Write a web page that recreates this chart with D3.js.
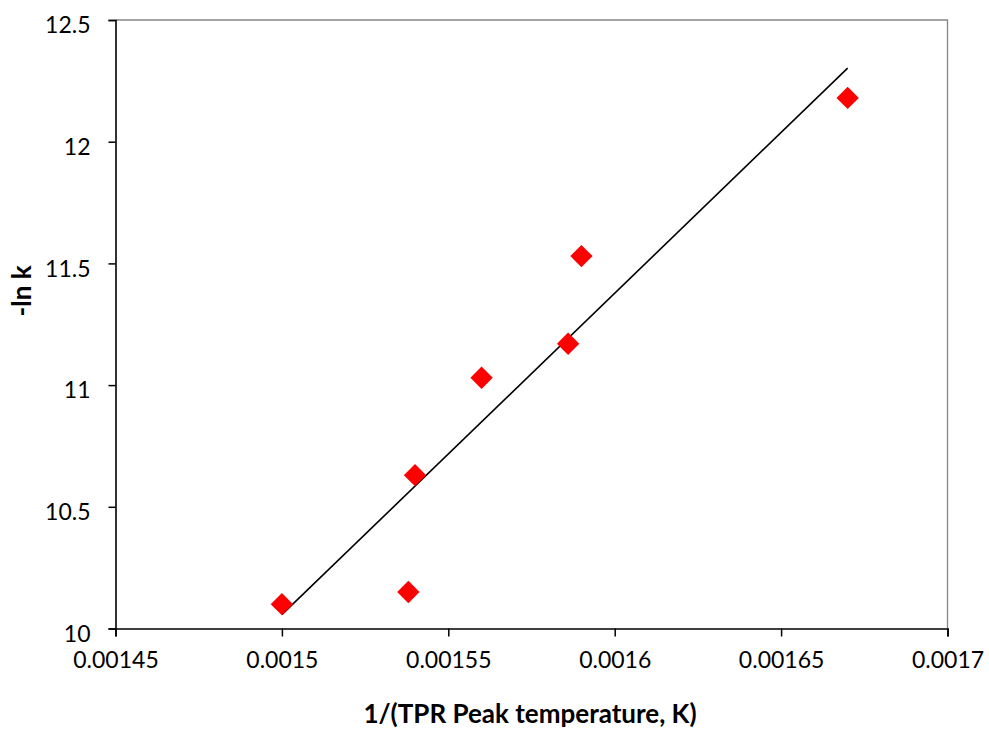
<!DOCTYPE html>
<html>
<head>
<meta charset="utf-8">
<script src="https://cdn.jsdelivr.net/npm/d3@7"></script>
<style>
  html, body { margin: 0; padding: 0; background: #fff; }
  svg { display: block; }
  .tick text { font-family: Lato, "Open Sans", sans-serif; font-size: 23px; fill: #000; }
  .title { font-family: Lato, "Open Sans", sans-serif; font-size: 26px; font-weight: bold; fill: #000; }
</style>
</head>
<body>
<svg id="chart" width="989" height="731"></svg>
<script>
// Inverse TPR peak temperature (1/K) and -ln k
const invTemp = [0.00150, 0.001538, 0.00154, 0.00156, 0.001586, 0.00159, 0.00167];
const negLnK  = [10.10, 10.15, 10.63, 11.03, 11.17, 11.53, 12.18];

const xTicks = [0.00145, 0.0015, 0.00155, 0.0016, 0.00165, 0.0017];
const yTicks = [10, 10.5, 11, 11.5, 12, 12.5];

const margin = { left: 115.5, right: 41.5, top: 20, bottom: 102.5 };
const W = 989, H = 731;
const svg = d3.select("#chart");

const x = d3.scaleLinear().domain([0.00145, 0.0017]).range([margin.left, W - margin.right]);
const y = d3.scaleLinear().domain([10, 12.5]).range([H - margin.bottom, margin.top]);

// plot area frame (top and right edges)
svg.append("path")
  .attr("d", `M${x.range()[0]},${y.range()[1]}H${x.range()[1]}V${y.range()[0]}`)
  .attr("fill", "none").attr("stroke", "#868686").attr("stroke-width", 1.3);

// axes
const xAxis = svg.append("g")
  .attr("transform", `translate(0,${y.range()[0]})`)
  .call(d3.axisBottom(x).tickValues(xTicks).tickFormat(d => String(+d.toFixed(5))).tickSizeOuter(0).tickSize(8).tickPadding(22));
const yAxis = svg.append("g")
  .attr("transform", `translate(${x.range()[0]},0)`)
  .call(d3.axisLeft(y).tickValues(yTicks).tickFormat(d => String(d)).tickSizeOuter(0).tickSize(7).tickPadding(18));
[xAxis, yAxis].forEach(g => {
  g.select(".domain").attr("stroke", "#000").attr("stroke-width", 1.6);
  g.selectAll(".tick line").attr("stroke", "#000").attr("stroke-width", 1.5);
});
yAxis.selectAll(".tick text").attr("dy", "0.55em");
xAxis.selectAll(".tick text").attr("dy", "0.4em");

// least-squares trend line over the data range
const n = invTemp.length;
const mx = d3.mean(invTemp), my = d3.mean(negLnK);
let sxy = 0, sxx = 0;
for (let i = 0; i < n; i++) {
  sxy += (invTemp[i] - mx) * (negLnK[i] - my);
  sxx += (invTemp[i] - mx) ** 2;
}
const slope = sxy / sxx, icpt = my - slope * mx;
const x0 = d3.min(invTemp), x1 = d3.max(invTemp);
svg.append("line")
  .attr("x1", x(x0)).attr("y1", y(icpt + slope * x0))
  .attr("x2", x(x1)).attr("y2", y(icpt + slope * x1))
  .attr("stroke", "#000").attr("stroke-width", 1.6);

// diamond markers
const diamond = d3.symbol().type(d3.symbolSquare).size(250);
svg.append("g").selectAll("path")
  .data(invTemp.map((v, i) => [v, negLnK[i]]))
  .join("path")
  .attr("d", diamond)
  .attr("transform", d => `translate(${x(d[0])},${y(d[1])}) rotate(45)`)
  .attr("fill", "#ff0000");

// axis titles
svg.append("text").attr("class", "title")
  .attr("x", 530).attr("y", 723)
  .attr("text-anchor", "middle")
  .text("1/(TPR Peak temperature, K)");
svg.append("text").attr("class", "title")
  .attr("transform", "translate(31,291) rotate(-90)")
  .attr("text-anchor", "middle")
  .text("-ln k");
</script>
</body>
</html>
